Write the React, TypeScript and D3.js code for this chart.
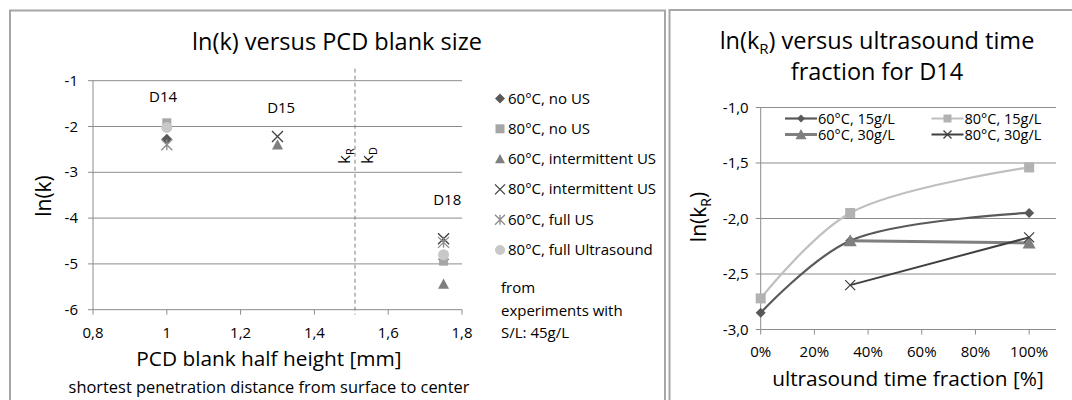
import React from 'react';
import * as d3 from 'd3';

// left chart: ln(k) per PCD blank
const blankSizes = [1.0, 1.3, 1.75];
const blankLabels = ['D14', 'D15', 'D18'];
const blankLabelX = [0.99, 1.31, 1.76];
const blankLabelY = [-1.36, -1.6, -3.61];
const kBoundary = 1.51;

type Shape = 'diamond' | 'square' | 'triangle' | 'x' | 'star' | 'circle';

const leftSeriesNames = [
  '60°C, no US',
  '80°C, no US',
  '60°C, intermittent US',
  '80°C, intermittent US',
  '60°C, full US',
  '80°C, full Ultrasound',
];
const leftShapes: Shape[] = ['diamond', 'square', 'triangle', 'x', 'star', 'circle'];
const leftColors = ['#595959', '#a6a6a6', '#7f7f7f', '#404040', '#8c8c8c', '#c8c8c8'];
// values per series, index matches blankSizes (null = not measured)
const noUs60 = [-2.28, null, -4.9];
const noUs80 = [-1.92, null, -4.94];
const interUs60 = [null, -2.4, -5.44];
const interUs80 = [null, -2.22, -4.45];
const fullUs60 = [-2.4, null, -4.53];
const fullUs80 = [-2.02, null, -4.8];
const leftValues = [noUs60, noUs80, interUs60, interUs80, fullUs60, fullUs80];

const leftXTicks = [0.8, 1.0, 1.2, 1.4, 1.6, 1.8];
const leftYTicks = [-1, -2, -3, -4, -5, -6];
const leftNote = ['from', 'experiments with', 'S/L: 45g/L'];

// right chart: ln(kR) vs ultrasound time fraction
const usFraction = [0, 1 / 3, 1];
const rightSeriesNames = ['60°C, 15g/L', '80°C, 15g/L', '60°C, 30g/L', '80°C, 30g/L'];
const rightShapes: Shape[] = ['diamond', 'square', 'triangle', 'x'];
const rightLineColors = ['#595959', '#bfbfbf', '#7f7f7f', '#404040'];
const rightMarkerColors = ['#595959', '#b2b2b2', '#7f7f7f', '#404040'];
const rightLineWidths = [2.2, 2.2, 3, 2];
const rightSmooth = [true, true, false, false];
const t60g15 = [-2.85, -2.2, -1.95];
const t80g15 = [-2.72, -1.95, -1.54];
const t60g30 = [null, -2.2, -2.22];
const t80g30 = [null, -2.6, -2.17];
const rightValues = [t60g15, t80g15, t60g30, t80g30];
const rightXTicks = [0, 0.2, 0.4, 0.6, 0.8, 1.0];
const rightYTicks = [-1.0, -1.5, -2.0, -2.5, -3.0];

const FONT = '"Open Sans", "Noto Sans", sans-serif';
const TEXT = '#000';
const GRID = '#8c8c8c';

const markerPath = (shape: Shape, r: number): string => {
  switch (shape) {
    case 'diamond':
      return `M0,${-r}L${r},0L0,${r}L${-r},0Z`;
    case 'square':
      return `M${-r},${-r}H${r}V${r}H${-r}Z`;
    case 'triangle':
      return `M0,${-r}L${r},${r * 0.85}L${-r},${r * 0.85}Z`;
    case 'x':
      return `M${-r},${-r}L${r},${r}M${-r},${r}L${r},${-r}`;
    case 'star':
      return `M${-r},${-r}L${r},${r}M${-r},${r}L${r},${-r}M0,${-r}L0,${r}`;
    default:
      return d3.arc()({ innerRadius: 0, outerRadius: r, startAngle: 0, endAngle: 2 * Math.PI } as any) || '';
  }
};

const Marker: React.FC<{ shape: Shape; r: number; color: string; x: number; y: number }> = ({ shape, r, color, x, y }) => {
  const stroked = shape === 'x' || shape === 'star';
  return (
    <path
      d={markerPath(shape, r)}
      transform={`translate(${x},${y})`}
      fill={stroked ? 'none' : color}
      stroke={stroked ? color : 'none'}
      strokeWidth={stroked ? 1.3 : 0}
    />
  );
};

const fmtComma = (v: number, digits: number) => v.toFixed(digits).replace('.', ',');

const LeftChart: React.FC = () => {
  const x = d3.scaleLinear().domain([0.8, 1.8]).range([93, 462]);
  const y = d3.scaleLinear().domain([-6, -1]).range([309.7, 80.7]);
  const [x0, x1] = x.range();

  return (
    <g fontFamily={FONT} fill={TEXT}>
      <rect x={10} y={10.5} width={655} height={420} fill="#fff" stroke="#a6a6a6" strokeWidth={2} />
      <text x={337} y={50} textAnchor="middle" fontSize={23.5}>ln(k) versus PCD blank size</text>

      {leftYTicks.filter(t => t !== -6).map(t => (
        <line key={t} x1={x0} x2={x1} y1={y(t)} y2={y(t)} stroke={GRID} strokeWidth={1} />
      ))}
      <line x1={x0} x2={x0} y1={y(-1)} y2={y(-6)} stroke={GRID} />
      <line x1={x0} x2={x1} y1={y(-6)} y2={y(-6)} stroke={GRID} />
      {leftYTicks.map(t => (
        <g key={t}>
          <line x1={x0 - 5} x2={x0} y1={y(t)} y2={y(t)} stroke={GRID} />
          <text x={x0 - 15} y={y(t) + 5} textAnchor="end" fontSize={15}>{t}</text>
        </g>
      ))}
      {leftXTicks.map(t => (
        <g key={t}>
          <line x1={x(t)} x2={x(t)} y1={y(-6)} y2={y(-6) + 5} stroke={GRID} />
          <text x={x(t)} y={y(-6) + 28} textAnchor="middle" fontSize={15}>{fmtComma(t, t === 1 ? 0 : 1)}</text>
        </g>
      ))}

      <line x1={x(kBoundary)} x2={x(kBoundary)} y1={y(-1) - 12} y2={y(-6) + 5} stroke="#7f7f7f" strokeDasharray="4,3" />
      <text transform={`translate(${x(kBoundary) - 5},164) rotate(-90)`} fontSize={17}>
        k<tspan fontSize={11} dy={4}>R</tspan>
      </text>
      <text transform={`translate(${x(kBoundary) + 18},164) rotate(-90)`} fontSize={17}>
        k<tspan fontSize={11} dy={4}>D</tspan>
      </text>

      {blankLabels.map((lbl, i) => (
        <text key={lbl} x={x(blankLabelX[i])} y={y(blankLabelY[i]) + 5} textAnchor="middle" fontSize={15}>{lbl}</text>
      ))}

      {leftValues.map((vals, si) =>
        vals.map((v, i) =>
          v === null ? null : (
            <Marker key={`${si}-${i}`} shape={leftShapes[si]} r={si === 1 ? 4.5 : 5.5} color={leftColors[si]} x={x(blankSizes[i])} y={y(v)} />
          ),
        ),
      )}

      {leftSeriesNames.map((name, i) => (
        <g key={name}>
          <Marker shape={leftShapes[i]} r={i === 1 ? 4.5 : 5} color={leftColors[i]} x={500} y={98.5 + i * 30.3} />
          <text x={508} y={98.5 + i * 30.3 + 5} fontSize={15}>{name}</text>
        </g>
      ))}
      {leftNote.map((line, i) => (
        <text key={line} x={501} y={293 + i * 22.5} fontSize={15}>{line}</text>
      ))}

      <text transform={`translate(51,196) rotate(-90)`} textAnchor="middle" fontSize={21}>ln(k)</text>
      <text x={269} y={366} textAnchor="middle" fontSize={20.8}>PCD blank half height [mm]</text>
      <text x={269} y={393} textAnchor="middle" fontSize={16.4}>shortest penetration distance from surface to center</text>
    </g>
  );
};

const RightChart: React.FC = () => {
  const x = d3.scaleLinear().domain([0, 1.1]).range([760.7, 1056]);
  const y = d3.scaleLinear().domain([-3, -1]).range([329.5, 107.5]);
  const [x0, x1] = x.range();
  const smoothLine = d3.line<[number, number]>().x(d => x(d[0])).y(d => y(d[1])).curve(d3.curveCatmullRom.alpha(0.5));
  const straightLine = d3.line<[number, number]>().x(d => x(d[0])).y(d => y(d[1]));

  return (
    <g fontFamily={FONT} fill={TEXT}>
      <rect x={669.5} y={10} width={420} height={420} fill="#fff" stroke="#a6a6a6" strokeWidth={2} />
      <text x={877} y={49} textAnchor="middle" fontSize={23.5}>
        ln(k<tspan fontSize={15} dy={5}>R</tspan><tspan dy={-5}>) versus ultrasound time</tspan>
      </text>
      <text x={877} y={80} textAnchor="middle" fontSize={23.5}>fraction for D14</text>

      {rightYTicks.filter(t => t !== -3).map(t => (
        <line key={t} x1={x0} x2={x1} y1={y(t)} y2={y(t)} stroke={GRID} />
      ))}
      <line x1={x0} x2={x0} y1={y(-1)} y2={y(-3)} stroke={GRID} />
      <line x1={x0} x2={x1} y1={y(-3)} y2={y(-3)} stroke={GRID} />
      {rightYTicks.map(t => (
        <g key={t}>
          <line x1={x0 - 5} x2={x0} y1={y(t)} y2={y(t)} stroke={GRID} />
          <text x={x0 - 12} y={y(t) + 5} textAnchor="end" fontSize={15}>{fmtComma(t, 1)}</text>
        </g>
      ))}
      {rightXTicks.map(t => (
        <g key={t}>
          <line x1={x(t)} x2={x(t)} y1={y(-3)} y2={y(-3) + 5} stroke={GRID} />
          <text x={x(t)} y={y(-3) + 27} textAnchor="middle" fontSize={15}>{`${Math.round(t * 100)}%`}</text>
        </g>
      ))}

      {rightValues.map((vals, si) => {
        const pts = vals
          .map((v, i) => (v === null ? null : ([usFraction[i], v] as [number, number])))
          .filter((p): p is [number, number] => p !== null);
        const gen = rightSmooth[si] ? smoothLine : straightLine;
        return (
          <g key={si}>
            <path d={gen(pts) || ''} fill="none" stroke={rightLineColors[si]} strokeWidth={rightLineWidths[si]} />
            {pts.map((p, i) => (
              <Marker key={i} shape={rightShapes[si]} r={rightShapes[si] === 'triangle' ? 6.5 : 5} color={rightMarkerColors[si]} x={x(p[0])} y={y(p[1])} />
            ))}
          </g>
        );
      })}

      {rightSeriesNames.map((name, i) => {
        const lx = i % 2 === 0 ? 785 : 931.5;
        const ly = i < 2 ? 118.5 : 134.5;
        return (
          <g key={name}>
            <line x1={lx} x2={lx + 32} y1={ly} y2={ly} stroke={rightLineColors[i]} strokeWidth={rightLineWidths[i]} />
            <Marker shape={rightShapes[i]} r={rightShapes[i] === 'triangle' ? 5.5 : 4} color={rightMarkerColors[i]} x={lx + 16} y={ly} />
            <text x={lx + 33} y={ly + 5} fontSize={14.5}>{name}</text>
          </g>
        );
      })}

      <text transform={`translate(706,217) rotate(-90)`} textAnchor="middle" fontSize={21}>
        ln(k<tspan fontSize={14} dy={5}>R</tspan><tspan dy={-5}>)</tspan>
      </text>
      <text x={908} y={386} textAnchor="middle" fontSize={20.8}>ultrasound time fraction [%]</text>
    </g>
  );
};

export default function App() {
  return (
    <svg width={1072} height={400} style={{ position: 'absolute', left: 0, top: 0, background: '#fff' }}>
      <rect width={1072} height={400} fill="#fff" />
      <LeftChart />
      <RightChart />
    </svg>
  );
}
